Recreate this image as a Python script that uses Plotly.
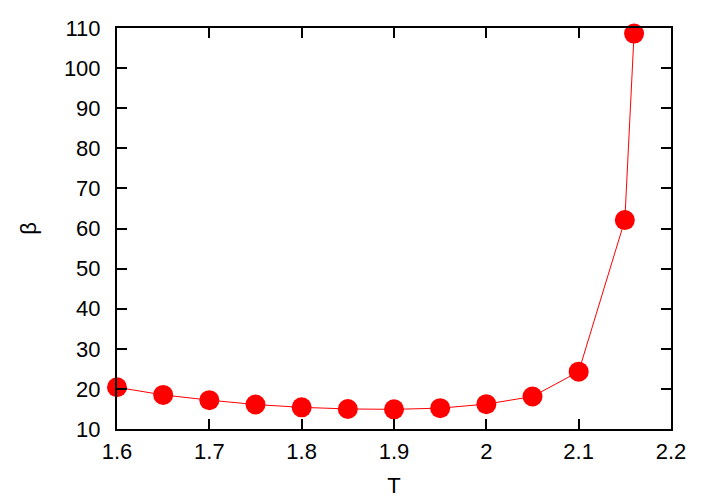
import plotly.graph_objects as go

T = [1.6, 1.65, 1.7, 1.75, 1.8, 1.85, 1.9, 1.95, 2.0, 2.05, 2.1, 2.15, 2.16]
beta = [20.4, 18.5, 17.2, 16.1, 15.4, 15.0, 14.9, 15.2, 16.2, 18.1, 24.3, 62.1, 108.6]

x_ticks = [1.6, 1.7, 1.8, 1.9, 2.0, 2.1, 2.2]
x_labels = ["1.6", "1.7", "1.8", "1.9", "2", "2.1", "2.2"]
y_ticks = [10, 20, 30, 40, 50, 60, 70, 80, 90, 100, 110]

fig = go.Figure()
fig.add_trace(go.Scatter(
    x=T, y=beta, mode="lines+markers",
    line=dict(color="#ff0000", width=1),
    marker=dict(color="#ff0000", size=20, line=dict(width=0)),
    cliponaxis=False,
    showlegend=False,
))

font = dict(family="Liberation Sans, Arial, sans-serif", size=22, color="black")
axis_common = dict(
    showline=True, linecolor="black", linewidth=2,
    mirror="allticks", ticks="inside", ticklen=10, tickwidth=1.5, tickcolor="black",
    showgrid=False, zeroline=False, tickfont=font, automargin=False,
)
fig.update_layout(
    width=702, height=490,
    margin=dict(l=109, r=39, t=20, b=69),
    paper_bgcolor="white", plot_bgcolor="white",
    font=font,
    xaxis=dict(range=[1.6, 2.2], tickvals=x_ticks, ticktext=x_labels,
               title=dict(text="T", font=font, standoff=14), ticklabelstandoff=2, **axis_common),
    yaxis=dict(range=[10, 110], tickvals=y_ticks,
               title=dict(text="β", font=font, standoff=21), ticklabelstandoff=10, **axis_common),
)
fig.write_html("out.html")
